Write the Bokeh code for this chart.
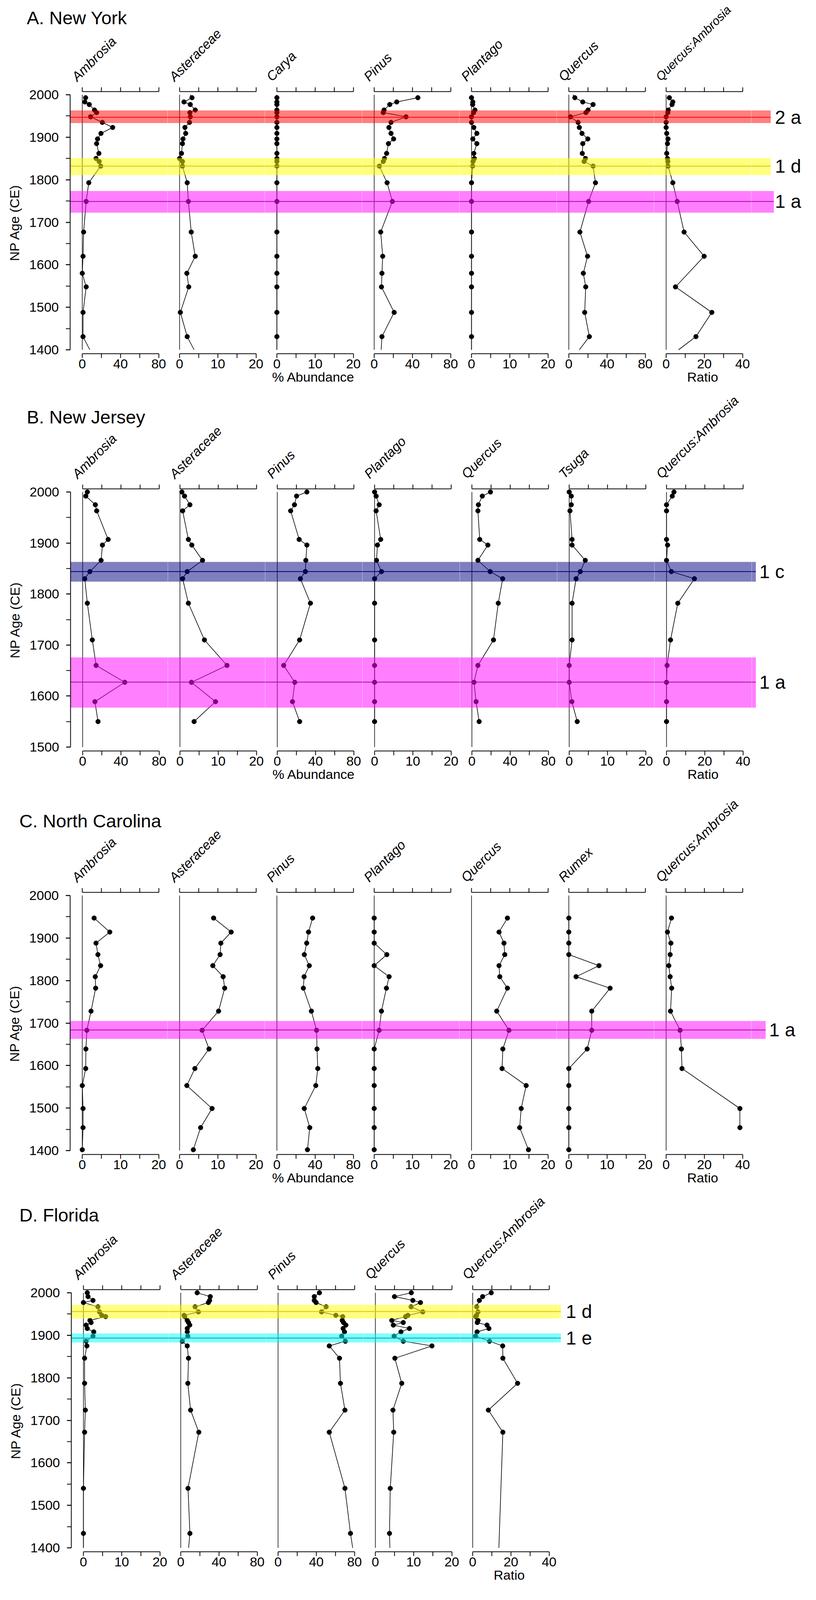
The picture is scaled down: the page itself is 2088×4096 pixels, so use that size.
from bokeh.plotting import figure
from bokeh.layouts import column, row
from bokeh.models import Range1d, LinearAxis, FixedTicker, SingleIntervalTicker
from bokeh.core.properties import value
from bokeh.embed import file_html
from bokeh.resources import INLINE

FONT = "Liberation Sans"

# ======================= DATA =======================
TOP_YEAR = 2000

# ---- A. New York ----
A_YEARS = [1993, 1983, 1977, 1964, 1958, 1948, 1935, 1923, 1909, 1896, 1885, 1862, 1850, 1843, 1832,
           1793, 1749, 1677, 1620, 1580, 1548, 1488, 1431]
A_AMBROSIA = [3.5, 2.7, 7.3, 12.8, 15.0, 8.7, 21.0, 31.8, 19.6, 16.0, 15.0, 17.4, 14.4, 17.7, 19.3,
              6.8, 4.1, 1.4, 0.8, 0.0, 4.1, 0.8, 0.8]
A_ASTERACEAE = [3.25, 1.15, 2.8, 4.1, 2.7, 2.8, 2.6, 1.4, 1.6, 0.9, 0.75, 0.5, 0.0, 0.75, 0.75,
                2.0, 2.3, 3.05, 4.1, 1.9, 2.4, 0.2, 2.0]
A_CARYA = [0, 0, 0, 0, 0, 0, 0, 0, 0, 0, 0, 0, 0, 0, 0, 0, 0, 0, 0, 0, 0, 0, 0]
A_PINUS = [45.7, 23.6, 16.3, 10.3, 9.5, 33.3, 17.6, 15.4, 17.6, 20.3, 14.9, 13.0, 10.8, 9.5, 5.4,
           13.5, 19.0, 6.8, 8.9, 8.1, 7.6, 20.9, 8.1]
A_PLANTAGO = [0, 0.35, 0.3, 0.9, 0.55, 0, 0, 0.6, 1.4, 0.35, 1.4, 0.6, 0.75, 0.4, 0.3,
              0, 0, 0, 0, 0, 0, 0, 0]
A_QUERCUS = [6.3, 14.6, 25.4, 20.1, 17.9, 1.7, 9.7, 11.0, 13.8, 19.9, 14.6, 14.1, 17.4, 16.0, 25.4,
             27.9, 20.7, 11.6, 19.6, 15.2, 17.7, 16.6, 21.5]
A_QA = [1.7, 3.5, 3.1, 1.1, 0.9, 0.0, 0.0, 0.0, 0.3, 1.0, 0.7, 0.3, 0.7, 0.9, 1.0,
        3.5, 5.8, 9.4, 19.9, None, 4.9, 23.9, 15.6]
A_EXT_TOP = {"Asteraceae": 2.8, "Quercus": 4.4}
A_EXT_BOTTOM = {"Ambrosia": 7.9, "Asteraceae": 3.8, "Carya": 0.0, "Pinus": 7.3, "Plantago": 0.0,
                "Quercus": 11.0, "Quercus:Ambrosia": 6.5}
A_BAND_LABELS = ["2 a", "1 d", "1 a"]
A_BAND_LOW = [1933.4, 1811.0, 1722.4]
A_BAND_HIGH = [1963.0, 1851.0, 1773.6]
A_BAND_MID = [1947.0, 1832.0, 1749.0]

# ---- B. New Jersey ----
B_YEARS = [2000, 1992, 1975, 1963, 1907, 1896, 1866, 1844, 1830, 1782, 1710, 1660, 1627, 1589, 1550]
B_AMBROSIA = [4.9, 3.3, 13.3, 14.7, 26.7, 20.7, 19.3, 7.6, 2.2, 4.9, 10.1, 14.1, 44.1, 12.8, 16.1]
B_ASTERACEAE = [0.5, 1.2, 2.6, 0.7, 2.2, 3.1, 5.9, 1.9, 0.7, 2.2, 6.4, 12.3, 3.0, 9.3, 3.7]
B_PINUS = [31.0, 20.2, 18.0, 14.0, 22.9, 31.0, 29.9, 29.4, 24.2, 34.7, 23.4, 6.7, 18.3, 15.9, 23.4]
B_PLANTAGO = [0, 0.4, 1.2, 0.4, 1.6, 0.75, 0.5, 1.8, 0, 0, 0, 0, 0, 0, 0]
B_QUERCUS = [19.4, 10.9, 6.8, 6.3, 8.2, 16.7, 6.3, 19.1, 32.2, 27.6, 22.6, 6.3, 2.2, 4.4, 7.6]
B_TSUGA = [0, 0.55, 0.55, 0.2, 0.75, 0.75, 4.2, 2.9, 1.8, 0.75, 0.75, 0, 0, 0.7, 2.1]
B_QA = [3.9, 3.0, 0, 0, 0, 0.55, 0, 2.5, 14.6, 5.9, 2.1, 0.3, 0, 0, 0]
B_EXT_TOP = {}
B_EXT_BOTTOM = {}
B_BAND_LABELS = ["1 c", "1 a"]
B_BAND_LOW = [1824.3, 1577.4]
B_BAND_HIGH = [1863.0, 1675.7]
B_BAND_MID = [1844.0, 1627.3]

# ---- C. North Carolina ----
C_YEARS = [1947, 1914, 1888, 1861, 1835, 1809, 1782, 1728, 1683, 1639, 1593, 1553, 1499, 1454, 1402]
C_AMBROSIA = [3.1, 7.2, 3.6, 4.1, 4.8, 3.4, 3.5, 2.3, 1.2, 0.95, 0.9, 0, 0.2, 0.2, 0]
C_ASTERACEAE = [8.9, 13.5, 10.8, 10.6, 8.7, 11.4, 11.8, 10.2, 5.9, 7.7, 4.0, 1.9, 8.5, 5.5, 3.6]
C_PINUS = [37.4, 33.1, 31.2, 28.7, 33.9, 28.5, 27.7, 36.1, 41.5, 42.0, 42.8, 40.7, 28.7, 34.4, 32.0]
C_PLANTAGO = [0, 0, 0, 3.3, 0, 3.9, 3.2, 1.9, 1.3, 0, 0, 0, 0, 0, 0]
C_QUERCUS = [9.4, 7.2, 8.5, 8.7, 7.2, 7.4, 9.4, 6.6, 9.8, 8.2, 8.0, 14.3, 13.0, 12.6, 14.9]
C_RUMEX = [0, 0, 0, 0, 7.9, 1.9, 10.8, 6.0, 6.0, 4.8, 0, 0, 0, 0, 0]
C_QA = [2.8, 0.7, 2.5, 2.1, 1.4, 2.1, 2.9, 2.3, 7.3, 8.0, 8.3, None, 38.6, 38.6, None]
C_EXT_TOP = {}
C_EXT_BOTTOM = {}
C_BAND_LABELS = ["1 a"]
C_BAND_LOW = [1662.8]
C_BAND_HIGH = [1704.8]
C_BAND_MID = [1683.8]

# ---- D. Florida ----
D_YEARS = [2000, 1991, 1982, 1977, 1967, 1955, 1947, 1944, 1935, 1930, 1924, 1916, 1908, 1898, 1886,
           1875, 1846, 1787, 1724, 1672, 1540, 1434]
D_AMBROSIA = [1.0, 1.2, 2.5, 0.0, 3.8, 4.2, 4.8, 5.8, 1.7, 2.0, 0.7, 1.0, 2.7, 2.5, 0.7,
              0.9, 0.3, 0.3, 0.5, 0.3, 0.0, 0.0]
D_ASTERACEAE = [17.2, 30.9, 30.2, 28.9, 15.0, 18.5, 3.5, 4.2, 6.8, 8.1, 9.4, 6.8, 6.8, 7.4, 1.6,
                6.8, 8.1, 7.4, 10.3, 18.9, 7.6, 9.6]
D_PINUS = [43.3, 37.9, 37.9, 39.8, 50.3, 45.5, 60.5, 67.6, 67.2, 68.5, 71.0, 68.1, 69.5, 66.6, 70.4,
           53.6, 64.3, 65.3, 70.0, 53.6, 70.0, 75.8]
D_QUERCUS = [9.4, 5.0, 9.8, 11.8, 9.35, 12.4, 8.5, 7.9, 4.3, 7.3, 4.7, 8.9, 6.7, 4.9, 7.3,
             14.8, 5.1, 6.9, 4.6, 4.8, 3.9, 3.7]
D_QA = [9.7, 5.2, 3.5, None, 2.1, 2.8, 2.0, 1.6, 2.8, 2.4, 7.5, 8.5, 2.3, 1.5, 8.8,
        15.7, 15.8, 23.5, 8.2, 15.8, None, None]
D_EXT_TOP = {}
D_EXT_BOTTOM = {"Ambrosia": 0.0, "Asteraceae": 8.2, "Pinus": 78.1, "Quercus": 3.8, "Quercus:Ambrosia": 13.7}
D_BAND_LABELS = ["1 d", "1 e"]
D_BAND_LOW = [1939.5, 1883.0]
D_BAND_HIGH = [1971.5, 1904.5]
D_BAND_MID = [1956.0, 1893.5]

# ======================= STYLE / LAYOUT =======================
BAND_STYLE = {
    "2 a": ("#ff0000", "#ff0000"),
    "1 d": ("#ffff00", "#d6c400"),
    "1 a": ("#ff00ff", "#b000b0"),
    "1 c": ("#000080", "#000080"),
    "1 e": ("#00ffff", "#00a0a0"),
}
MARGIN = 8
COL_STEP = 249
COL_W = 195.6
LEFT_PAD = 31
SPAN_PX = 653
PAD_TOP = 8
PAD_BOT = 10
FRAME_H = SPAN_PX + PAD_TOP + PAD_BOT
TOPB = 12
BORDER_BOTTOM = 92
LAST_END = 2076
TICK = 11
TXT = "34px"
LAB_SIZE = "34px"
LAB_DX, LAB_DY = -21, 33

PANELS = [
    dict(title="A. New York", years=A_YEARS, ymin=1400,
         taxa=[("Ambrosia", 80, A_AMBROSIA), ("Asteraceae", 20, A_ASTERACEAE), ("Carya", 20, A_CARYA),
               ("Pinus", 80, A_PINUS), ("Plantago", 20, A_PLANTAGO), ("Quercus", 80, A_QUERCUS),
               ("Quercus:Ambrosia", 40, A_QA)],
         ext_top=A_EXT_TOP, ext_bottom=A_EXT_BOTTOM,
         bands=(A_BAND_LABELS, A_BAND_LOW, A_BAND_HIGH, A_BAND_MID),
         xlabels={2: "% Abundance", 6: "Ratio"}, label_sizes={"Quercus:Ambrosia": "31px"},
         axis_x=187, header_h=222, title_x=76, title_dy=189, band_px=[72, 72, 80], label_px=83),
    dict(title="B. New Jersey", years=B_YEARS, ymin=1500,
         taxa=[("Ambrosia", 80, B_AMBROSIA), ("Asteraceae", 20, B_ASTERACEAE), ("Pinus", 80, B_PINUS),
               ("Plantago", 20, B_PLANTAGO), ("Quercus", 80, B_QUERCUS), ("Tsuga", 20, B_TSUGA),
               ("Quercus:Ambrosia", 40, B_QA)],
         ext_top=B_EXT_TOP, ext_bottom=B_EXT_BOTTOM,
         bands=(B_BAND_LABELS, B_BAND_LOW, B_BAND_HIGH, B_BAND_MID),
         xlabels={2: "% Abundance", 6: "Ratio"}, label_sizes={},
         axis_x=188, header_h=242, title_x=76, title_dy=184, band_px=[33, 33], label_px=42),
    dict(title="C. North Carolina", years=C_YEARS, ymin=1400,
         taxa=[("Ambrosia", 20, C_AMBROSIA), ("Asteraceae", 20, C_ASTERACEAE), ("Pinus", 80, C_PINUS),
               ("Plantago", 20, C_PLANTAGO), ("Quercus", 20, C_QUERCUS), ("Rumex", 20, C_RUMEX),
               ("Quercus:Ambrosia", 40, C_QA)],
         ext_top=C_EXT_TOP, ext_bottom=C_EXT_BOTTOM,
         bands=(C_BAND_LABELS, C_BAND_LOW, C_BAND_HIGH, C_BAND_MID),
         xlabels={2: "% Abundance", 6: "Ratio"}, label_sizes={},
         axis_x=187, header_h=258, title_x=57, title_dy=183, band_px=[59], label_px=68),
    dict(title="D. Florida", years=D_YEARS, ymin=1400,
         taxa=[("Ambrosia", 20, D_AMBROSIA), ("Asteraceae", 80, D_ASTERACEAE), ("Pinus", 80, D_PINUS),
               ("Quercus", 20, D_QUERCUS), ("Quercus:Ambrosia", 40, D_QA)],
         ext_top=D_EXT_TOP, ext_bottom=D_EXT_BOTTOM,
         bands=(D_BAND_LABELS, D_BAND_LOW, D_BAND_HIGH, D_BAND_MID),
         xlabels={4: "Ratio"}, label_sizes={},
         axis_x=190, header_h=242, title_x=57, title_dy=191, band_px=[30, 30], label_px=43),
]


def style_axis(ax):
    ax.axis_line_color = "black"
    ax.axis_line_width = 2
    for k in ("major", "minor"):
        setattr(ax, k + "_tick_line_color", "black")
        setattr(ax, k + "_tick_line_width", 2)
        setattr(ax, k + "_tick_out", TICK)
        setattr(ax, k + "_tick_in", 0)
    ax.major_label_text_font = FONT
    ax.major_label_text_font_size = TXT
    ax.major_label_text_color = "black"
    ax.major_label_standoff = 3
    ax.axis_label_text_font = FONT
    ax.axis_label_text_font_size = TXT
    ax.axis_label_text_font_style = "normal"
    ax.axis_label_text_color = "black"
    ax.axis_label_standoff = 0


def bare_figure(fw, fh, xr, yr, left=0, top=0, bottom=0):
    p = figure(frame_width=int(fw), frame_height=int(fh), x_range=xr, y_range=yr,
               title=None, output_backend="svg", toolbar_location=None,
               x_axis_location=None, y_axis_location=None,
               min_border_left=left, min_border_right=0,
               min_border_top=top, min_border_bottom=bottom,
               outline_line_color=None, background_fill_color="white",
               border_fill_color="white")
    p.grid.visible = False
    return p


def make_header(spec):
    H = spec["header_h"]
    hp = bare_figure(LAST_END - MARGIN, H, Range1d(MARGIN, LAST_END), Range1d(0, H))
    hp.text(x=[spec["title_x"]], y=[spec["title_dy"] - TOPB], text=[spec["title"]],
            text_font=value(FONT), text_font_size=value("47px"), text_color="black",
            text_align="left", text_baseline="middle")
    names = [t[0] for t in spec["taxa"]]
    xs = [spec["axis_x"] + LEFT_PAD + i * COL_STEP + LAB_DX for i in range(len(names))]
    sizes = [spec["label_sizes"].get(nm, LAB_SIZE) for nm in names]
    hp.text(x=xs, y=[LAB_DY - TOPB] * len(names), text=names, angle=45, angle_units="deg",
            text_font=value(FONT), text_font_size=sizes, text_font_style="italic",
            text_color="black", text_align="left", text_baseline="alphabetic")
    return hp


def make_panel(spec):
    figs = []
    years = spec["years"]
    ymin = spec["ymin"]
    ppy = SPAN_PX / (TOP_YEAR - ymin)
    y0, y1 = ymin - PAD_BOT / ppy, TOP_YEAR + PAD_TOP / ppy
    n = len(spec["taxa"])
    axis_x = spec["axis_x"]
    labels, lows, highs, mids = spec["bands"]
    for i, (name, vmax, vals) in enumerate(spec["taxa"]):
        first = i == 0
        ppu = COL_W / vmax
        xs = -LEFT_PAD / ppu
        xe = xs + COL_STEP / ppu
        p = bare_figure(COL_STEP, FRAME_H, Range1d(xs, xe), Range1d(y0, y1),
                        left=(axis_x - MARGIN) if first else 0, top=TOPB, bottom=BORDER_BOTTOM)

        top = LinearAxis(bounds=(0, vmax),
                         ticker=FixedTicker(ticks=[], minor_ticks=[0, vmax / 4, vmax / 2, 3 * vmax / 4, vmax]))
        style_axis(top)
        top.major_label_standoff = 0
        p.add_layout(top, "above")

        bot = LinearAxis(bounds=(0, vmax),
                         ticker=FixedTicker(ticks=[0, vmax / 2, vmax], minor_ticks=[vmax / 4, 3 * vmax / 4]))
        style_axis(bot)
        if i in spec["xlabels"]:
            bot.axis_label = spec["xlabels"][i]
        p.add_layout(bot, "below")

        if first:
            ya = LinearAxis(bounds=(ymin, TOP_YEAR),
                            ticker=SingleIntervalTicker(interval=100, num_minor_ticks=2),
                            axis_label="NP Age (CE)")
            style_axis(ya)
            ya.major_label_standoff = 18
            ya.axis_label_standoff = 16
            p.add_layout(ya, "left")

        # zero line of the column
        p.segment(x0=[0], y0=[ymin], x1=[0], y1=[TOP_YEAR], line_color="black", line_width=1.5)

        ys = [y for y, v in zip(years, vals) if v is not None]
        vs = [v for v in vals if v is not None]
        ly, lv = list(ys), list(vs)
        if name in spec["ext_top"]:
            ly = [TOP_YEAR] + ly
            lv = [spec["ext_top"][name]] + lv
        if name in spec["ext_bottom"]:
            ly.append(ymin)
            lv.append(spec["ext_bottom"][name])
        p.line(lv, ly, line_color="black", line_width=1.6)
        p.scatter(vs, ys, size=12, color="black")

        # shaded event bands (drawn over the curves, past the frame edges so they join up)
        padx = 4 / ppu
        p.quad(left=xs - padx, right=xe + padx, bottom=lows, top=highs,
               fill_color=[BAND_STYLE[l][0] for l in labels], fill_alpha=0.5, line_color=None)
        p.segment(x0=[xs - padx] * len(mids), x1=[xe + padx] * len(mids), y0=mids, y1=mids,
                  line_color=[BAND_STYLE[l][1] for l in labels], line_width=2)
        figs.append(p)

    # extension strip at the right: band ends and band labels
    ext_left = axis_x + n * COL_STEP
    ew = LAST_END - ext_left
    last_max_px = axis_x + LEFT_PAD + (n - 1) * COL_STEP + COL_W - ext_left
    pe = bare_figure(ew, FRAME_H, Range1d(0, ew), Range1d(y0, y1), top=TOPB, bottom=BORDER_BOTTOM)
    rights = [last_max_px + bp for bp in spec["band_px"]]
    pe.quad(left=-4, right=rights, bottom=lows, top=highs,
            fill_color=[BAND_STYLE[l][0] for l in labels], fill_alpha=0.5, line_color=None)
    pe.segment(x0=[-4] * len(mids), x1=rights, y0=mids, y1=mids,
               line_color=[BAND_STYLE[l][1] for l in labels], line_width=2)
    pe.text(x=[last_max_px + spec["label_px"]] * len(labels), y=mids, text=labels,
            text_font=value(FONT), text_font_size=value("48px"), text_color="black",
            text_align="left", text_baseline="middle")
    figs.append(pe)
    return column(make_header(spec), row(*figs, spacing=0), spacing=0)


layout = column(*[make_panel(s) for s in PANELS], spacing=0)
open("out.html", "w").write(file_html(layout, INLINE, title="Pollen diagrams"))
